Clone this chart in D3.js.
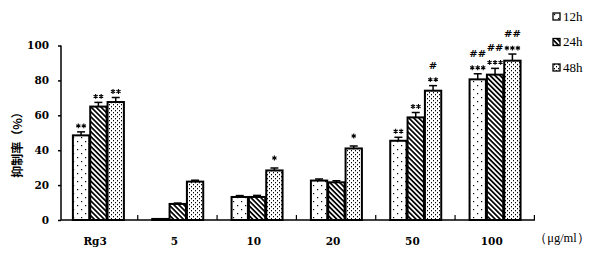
<!DOCTYPE html>
<html><head><meta charset="utf-8">
<script src="https://cdn.jsdelivr.net/npm/d3@7/dist/d3.min.js"></script>
<style>body{margin:0;background:#fff}svg{display:block}</style>
</head><body>
<svg id="c" width="600" height="258"></svg>
<script>
const categories = ["Rg3","5","10","20","50","100"];
const seriesNames = ["12h","24h","48h"];
const values12 = [48.5, 0.6, 13.2, 22.6, 45.4, 80.6];
const values24 = [65.0, 9.2, 13.2, 21.6, 58.8, 83.3];
const values48 = [67.6, 22.0, 28.4, 41.0, 74.1, 91.3];
const err12 = [2.0, 0, 0.8, 0.9, 2.0, 3.2];
const err24 = [2.4, 0.5, 0.9, 0.9, 2.8, 3.6];
const err48 = [2.6, 0.8, 1.4, 1.4, 2.9, 3.8];
const star12 = ["**","","","","**","***"];
const star24 = ["**","","","","**","***"];
const star48 = ["**","","*","*","**","***"];
const hash12 = ["","","","","","##"];
const hash24 = ["","","","","","##"];
const hash48 = ["","","","","#","##"];
const yTicks = [0,20,40,60,80,100];
const unitLabel = "（μg/ml）";
const yTitle = "抑制率（%）";

const svg = d3.select("#c");
const defs = svg.append("defs");
const p1 = defs.append("pattern").attr("id","p12").attr("patternUnits","userSpaceOnUse").attr("width",8).attr("height",8);
p1.append("rect").attr("width",8).attr("height",8).attr("fill","#fff");
p1.append("rect").attr("x",1).attr("y",1).attr("width",1.2).attr("height",1.2).attr("fill","#000");
p1.append("rect").attr("x",5).attr("y",5).attr("width",1.2).attr("height",1.2).attr("fill","#000");
const p2 = defs.append("pattern").attr("id","p24").attr("patternUnits","userSpaceOnUse").attr("width",3.5).attr("height",3.5).attr("patternTransform","rotate(45)");
p2.append("rect").attr("width",3.5).attr("height",3.5).attr("fill","#fff");
p2.append("rect").attr("x",0).attr("y",0).attr("width",3.5).attr("height",1.7).attr("fill","#000");
const p3 = defs.append("pattern").attr("id","p48").attr("patternUnits","userSpaceOnUse").attr("width",4).attr("height",4);
p3.append("rect").attr("width",4).attr("height",4).attr("fill","#fff");
p3.append("rect").attr("x",1).attr("y",0).attr("width",1).attr("height",1.3).attr("fill","#000");
p3.append("rect").attr("x",3).attr("y",2).attr("width",1).attr("height",1.3).attr("fill","#000");
const fills = ["url(#p12)","url(#p24)","url(#p48)"];

const x0 = d3.scaleBand().domain(categories).range([58.4, 534.4]).paddingInner(0).paddingOuter(0);
const x1 = d3.scaleBand().domain(seriesNames).range([14, 66]);
const y = d3.scaleLinear().domain([0,100]).range([220, 45.5]);

const vals = [values12, values24, values48];
const errs = [err12, err24, err48];
const stars = [star12, star24, star48];
const hashes = [hash12, hash24, hash48];

const data = [];
categories.forEach((c,i)=>seriesNames.forEach((s,j)=>data.push({c,s,j,v:vals[j][i],e:errs[j][i],st:stars[j][i],h:hashes[j][i]})));
const cx = d=>x0(d.c)+x1(d.s)+x1.bandwidth()/2;

const g = svg.append("g");
const eb = g.selectAll(".eb").data(data.filter(d=>d.e>0)).join("g");
eb.append("line").attr("x1",cx).attr("x2",cx)
  .attr("y1",d=>y(d.v)).attr("y2",d=>y(d.v+d.e)).attr("stroke","#000").attr("stroke-width",1.5);
eb.append("line").attr("x1",d=>cx(d)-4).attr("x2",d=>cx(d)+4)
  .attr("y1",d=>y(d.v+d.e)).attr("y2",d=>y(d.v+d.e)).attr("stroke","#000").attr("stroke-width",1.5);

g.selectAll(".bar").data(data).join("rect")
  .attr("x",d=>x0(d.c)+x1(d.s)+0.5).attr("width",x1.bandwidth()-1)
  .attr("y",d=>y(d.v)).attr("height",d=>y(0)-y(d.v))
  .attr("fill",d=>fills[d.j]).attr("stroke","#000").attr("stroke-width",2);

// significance asterisks drawn as symbols
const starPath = d3.symbol(d3.symbolAsterisk, 16)();
const starMarks = [];
data.filter(d=>d.st).forEach(d=>{
  const n = d.st.length, sp = 5.5;
  for (let k=0;k<n;k++) starMarks.push({x: cx(d)+(k-(n-1)/2)*sp, y: y(d.v+d.e) - (n===1?10:6)});
});
g.selectAll(".st").data(starMarks).join("path")
  .attr("transform",d=>`translate(${d.x},${d.y})`).attr("d",starPath)
  .attr("fill","none").attr("stroke","#000").attr("stroke-width",1.1);

const annFont = "'DejaVu Serif', serif";
g.selectAll(".hs").data(data.filter(d=>d.h)).join("text")
  .attr("x",cx).attr("y",d=>y(d.v+d.e)-17)
  .attr("text-anchor","middle").attr("font-family",annFont).attr("font-size",10).attr("font-weight","bold").attr("fill","#000").text(d=>d.h);

const axF = "'DejaVu Serif', serif";
const yAxis = d3.axisLeft(y).tickValues(yTicks).tickSize(3).tickPadding(9);
const ya = svg.append("g").attr("transform","translate(61,0)").call(yAxis);
ya.select(".domain").attr("stroke-width",1.5).attr("d","M0,45.5V220");
ya.selectAll(".tick line").attr("stroke-width",1.5);
ya.selectAll("text").attr("font-family",axF).attr("font-size",10.5).attr("font-weight","bold").attr("fill","#000");

const xa = svg.append("g").attr("transform","translate(0,220)");
xa.append("line").attr("x1",61).attr("x2",535).attr("stroke","#000").attr("stroke-width",1.5);
xa.selectAll(".xt").data(categories).join("line")
  .attr("x1",d=>x0(d)+x0.step()).attr("x2",d=>x0(d)+x0.step())
  .attr("y1",0).attr("y2",-5).attr("stroke","#000").attr("stroke-width",1.2);
xa.selectAll(".xl").data(categories).join("text")
  .attr("x",d=>x0(d)+x0.bandwidth()/2-3).attr("y",25)
  .attr("text-anchor","middle").attr("font-family",axF).attr("font-size",10.5).attr("font-weight","bold").attr("fill","#000").text(d=>d);

svg.append("text").attr("x",562).attr("y",242).attr("text-anchor","middle")
  .attr("font-family","'Liberation Serif', serif").attr("font-size",12.5).attr("fill","#000").text(unitLabel);

svg.append("text").attr("transform","translate(22,142) rotate(-90)").attr("text-anchor","middle")
  .attr("font-family","'Noto Sans CJK SC', sans-serif").attr("font-size",12).attr("font-weight","bold").attr("fill","#000").text(yTitle);

const lg = svg.append("g").selectAll("g").data(seriesNames).join("g")
  .attr("transform",(d,i)=>`translate(553,${13+i*25.5})`);
lg.append("rect").attr("width",7).attr("height",7).attr("fill",(d,i)=>fills[i]).attr("stroke","#000").attr("stroke-width",1.3);
lg.append("text").attr("x",10).attr("y",7.5).attr("font-family","'Liberation Serif', serif").attr("font-size",13).attr("fill","#000").text(d=>d);
</script>
</body></html>
